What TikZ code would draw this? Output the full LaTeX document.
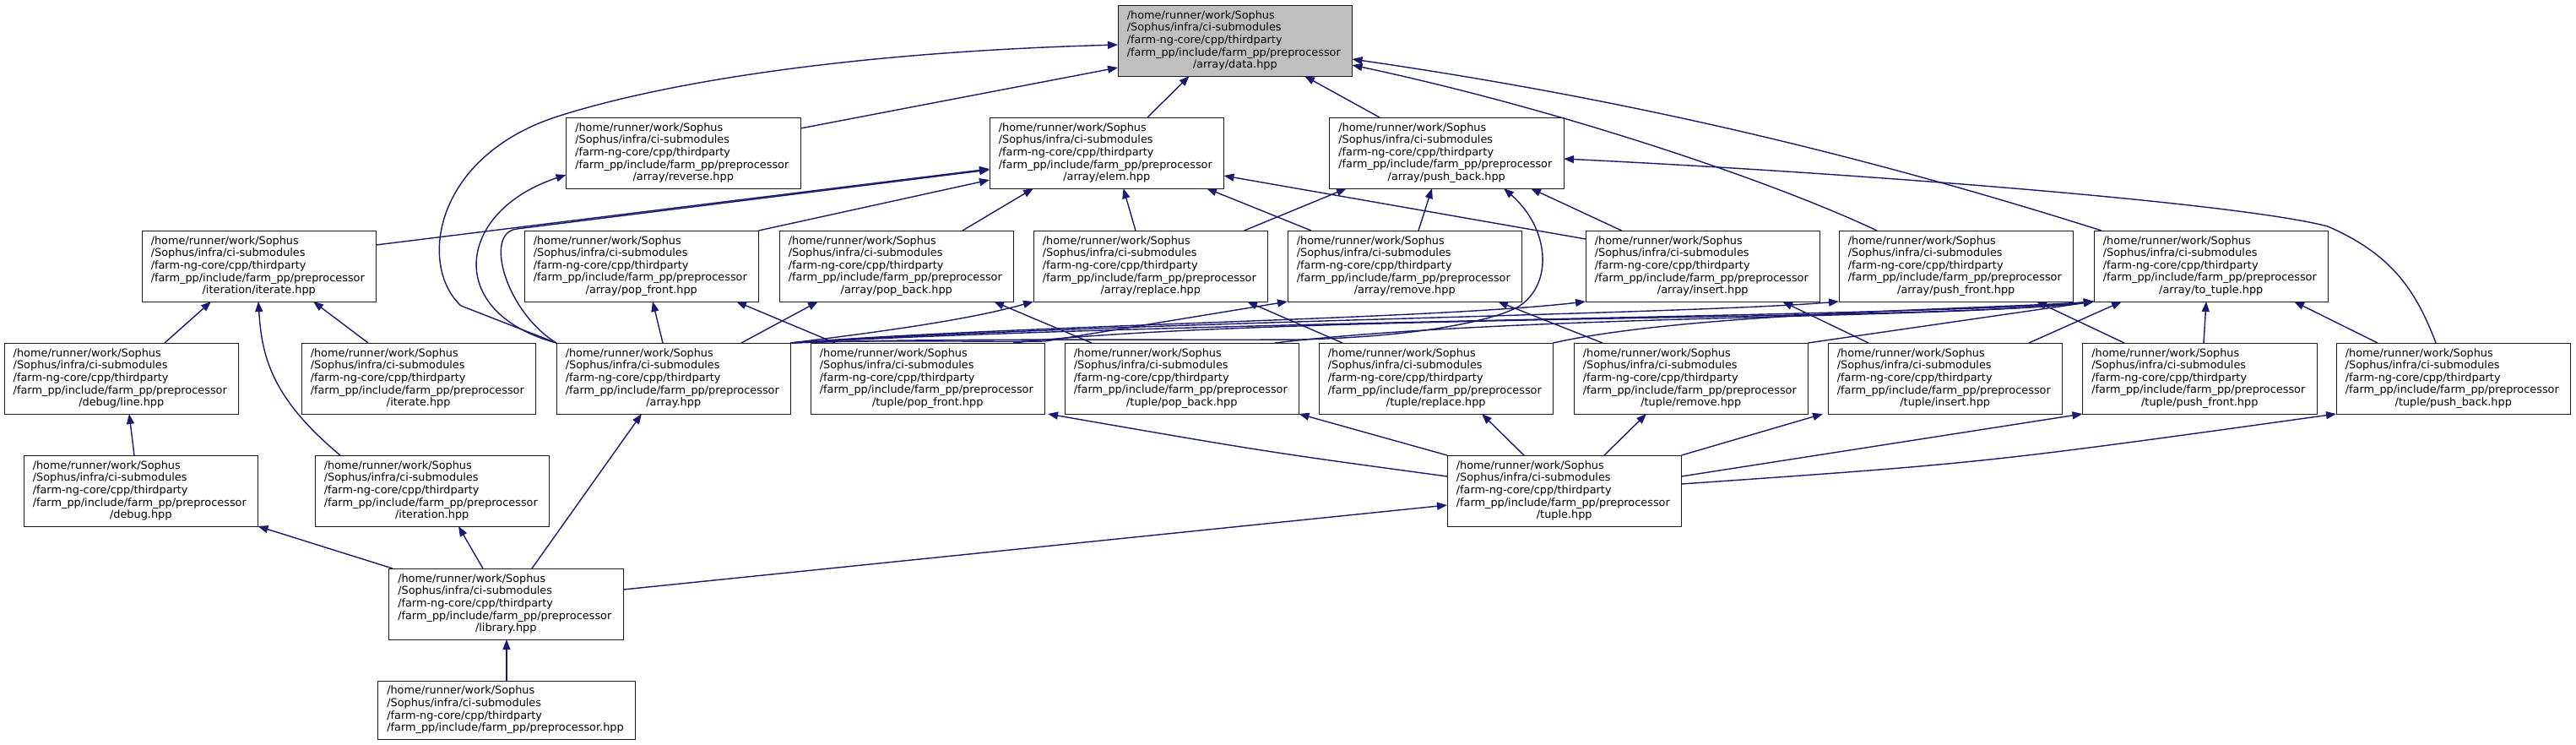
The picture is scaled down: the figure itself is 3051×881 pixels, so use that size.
\documentclass[tikz,border=0pt]{standalone}
\usepackage{fontspec}
\setmainfont{DejaVu Sans}
\usetikzlibrary{arrows.meta}
\definecolor{navy}{HTML}{191970}
\definecolor{rootfill}{HTML}{BFBFBF}
\definecolor{boxline}{HTML}{1A1A1A}
\newcommand{\pfx}{/home/runner/work/Sophus\\/Sophus/infra/ci-submodules\\/farm-ng-core/cpp/thirdparty\\/farm\_pp/include/farm\_pp/preprocessor\\}
\newcommand{\lastl}[1]{\makebox[256pt][c]{#1}}
\begin{document}
\begin{tikzpicture}[x=1pt,y=-1pt,
  filebox/.style={draw=boxline, fill=white, line width=1pt, anchor=north west,
    text width=256pt, align=left, inner xsep=10.75pt, inner ysep=0pt, outer sep=0pt,
    minimum height=84pt, font=\fontsize{12.86pt}{14.6pt}\selectfont},
  rootbox/.style={filebox, fill=rootfill},
  dep/.style={draw=navy, line width=1.4pt, -{Triangle[length=12pt,width=9pt]}}]
\fill[white] (0,0) rectangle (3051,881);
\useasboundingbox (0,0) rectangle (3051,881);
% row 1
\node[rootbox] (data) at (1324,6) {\pfx\lastl{/array/data.hpp}};
% row 2
\node[filebox] (reverse) at (670.5,139) {\pfx\lastl{/array/reverse.hpp}};
\node[filebox] (elem) at (1172,139) {\pfx\lastl{/array/elem.hpp}};
\node[filebox] (pushback) at (1574.5,139) {\pfx\lastl{/array/push\_back.hpp}};
% row 3
\node[filebox] (iterit) at (168,273) {\pfx\lastl{/iteration/iterate.hpp}};
\node[filebox] (apopf) at (621,273) {\pfx\lastl{/array/pop\_front.hpp}};
\node[filebox] (apopb) at (923,273) {\pfx\lastl{/array/pop\_back.hpp}};
\node[filebox] (arepl) at (1224,273) {\pfx\lastl{/array/replace.hpp}};
\node[filebox] (aremv) at (1525,273) {\pfx\lastl{/array/remove.hpp}};
\node[filebox] (ains) at (1878,273) {\pfx\lastl{/array/insert.hpp}};
\node[filebox] (apushf) at (2178,273) {\pfx\lastl{/array/push\_front.hpp}};
\node[filebox] (atotup) at (2480,273) {\pfx\lastl{/array/to\_tuple.hpp}};
% row 4
\node[filebox] (line) at (5,406) {\pfx\lastl{/debug/line.hpp}};
\node[filebox] (iter) at (357,406) {\pfx\lastl{/iterate.hpp}};
\node[filebox] (array) at (659,406) {\pfx\lastl{/array.hpp}};
\node[filebox] (tpopf) at (960,406) {\pfx\lastl{/tuple/pop\_front.hpp}};
\node[filebox] (tpopb) at (1261,406) {\pfx\lastl{/tuple/pop\_back.hpp}};
\node[filebox] (trepl) at (1562,406) {\pfx\lastl{/tuple/replace.hpp}};
\node[filebox] (tremv) at (1864,406) {\pfx\lastl{/tuple/remove.hpp}};
\node[filebox] (tins) at (2165,406) {\pfx\lastl{/tuple/insert.hpp}};
\node[filebox] (tpushf) at (2466.5,406) {\pfx\lastl{/tuple/push\_front.hpp}};
\node[filebox] (tpushb) at (2767,406) {\pfx\lastl{/tuple/push\_back.hpp}};
% row 5
\node[filebox] (debug) at (28,539) {\pfx\lastl{/debug.hpp}};
\node[filebox] (iteration) at (373,539) {\pfx\lastl{/iteration.hpp}};
\node[filebox] (tuple) at (1714,539) {\pfx\lastl{/tuple.hpp}};
% row 6, 7
\node[filebox] (library) at (460.5,673) {\pfx\lastl{/library.hpp}};
\node[filebox, text width=283pt, minimum height=69pt] (prep) at (447.5,806)
  {/home/runner/work/Sophus\\/Sophus/infra/ci-submodules\\/farm-ng-core/cpp/thirdparty\\/farm\_pp/include/farm\_pp/preprocessor.hpp};

% ---- edges into data
\draw[dep] (array.north west) -- (546,362) .. controls (495,315) and (513,184) .. (663,137)
   .. controls (783,99) and (1000,62) .. (data.west |- 0,53);
\draw[dep] (reverse.east |- 0,152) -- (data.west |- 0,80);
\draw[dep] (elem.north -| 1359,0) -- (data.south -| 1408.6,0);
\draw[dep] (pushback.north -| 1634,0) -- (data.south -| 1545,0);
\draw[dep] (apushf.north -| 2223,0) .. controls (2100,215) and (1850,130) .. (data.east |- 0,77);
\draw[dep] (atotup.north -| 2489,0) .. controls (2189,178) and (1912,115) .. (data.east |- 0,70);
% ---- into reverse
\draw[dep] (array.north west) .. controls (525,370) and (540,250) .. (reverse.west |- 0,207);
% ---- into elem
\draw[dep] (iterit.east |- 0,290) -- (elem.west |- 0,200);
\draw[dep] (array.north west) .. controls (600,370) and (572,276) .. (612,271) -- (elem.west |- 0,201);
\draw[dep] (apopf.north east) -- (elem.west |- 0,213);
\draw[dep] (apopb.north -| 1140,0) -- (elem.south -| 1224,0);
\draw[dep] (arepl.north -| 1345,0) -- (elem.south -| 1330.5,0);
\draw[dep] (aremv.north -| 1553,0) -- (elem.south -| 1429,0);
\draw[dep] (ains.west |- 0,283) -- (elem.east |- 0,208);
% ---- into push_back
\draw[dep] (arepl.north -| 1473.6,0) -- (pushback.south -| 1595,0);
\draw[dep] (aremv.north -| 1680,0) -- (pushback.south -| 1696,0);
\draw[dep] (ains.north -| 1920.6,0) -- (pushback.south -| 1813,0);
\draw[dep] (array.north east) .. controls (1100,400) and (1400,403) .. (1540,402)
   .. controls (1700,398) and (1780,375) .. (1800,362)
   .. controls (1840,335) and (1835,270) .. (pushback.south -| 1781,0);
\draw[dep] (tpushb.north -| 2885,0) .. controls (2860,340) and (2830,300) .. (2757,268)
   .. controls (2650,240) and (2200,205) .. (pushback.east |- 0,188);
% ---- iteration/iterate
\draw[dep] (line.north -| 195,0) -- (iterit.south -| 250,0);
\draw[dep] (iter.north -| 436,0) -- (iterit.south -| 371,0);
\draw[dep] (iteration.north -| 403,0) .. controls (320,470) and (310,420) .. (iterit.south -| 306,0);
% ---- array.hpp to array/*
\draw[dep] (array.north -| 785,0) -- (apopf.south -| 773,0);
\draw[dep] (array.north -| 878,0) -- (apopb.south -| 969,0);
\draw[dep] (array.north east) .. controls (1050,392) and (1150,378) .. (arepl.south west);
\draw[dep] (array.north east) .. controls (1050,402) and (1150,405) .. (1238,404) -- (aremv.south west);
\draw[dep] (array.north east) .. controls (1200,385) and (1700,378) .. (ains.south west);
\draw[dep] (array.north east) .. controls (1300,382) and (2000,372) .. (apushf.south west);
\draw[dep] (array.north east) .. controls (1400,380) and (2300,374) .. (atotup.south west);
% ---- tuple/* to array/*
\draw[dep] (tpopf.north -| 989,0) -- (apopf.south -| 872,0);
\draw[dep] (tpopb.north -| 1293,0) -- (apopb.south -| 1177,0);
\draw[dep] (trepl.north -| 1590,0) -- (arepl.south -| 1477,0);
\draw[dep] (tremv.north -| 1898,0) -- (aremv.south -| 1774,0);
\draw[dep] (tins.north -| 2213,0) -- (ains.south -| 2111,0);
\draw[dep] (tpushf.north -| 2516,0) -- (apushf.south -| 2412,0);
% ---- tuple/* to to_tuple
\draw[dep] (tpopf.north -| 1200,0) .. controls (1500,372) and (2300,380) .. (atotup.south west);
\draw[dep] (tpopb.north -| 1510,0) .. controls (1800,372) and (2300,378) .. (atotup.south west);
\draw[dep] (trepl.north east) .. controls (2000,370) and (2350,366) .. (atotup.south west);
\draw[dep] (tremv.north east) -- (atotup.south west);
\draw[dep] (tins.north -| 2403,0) -- (atotup.south -| 2513,0);
\draw[dep] (tpushf.north -| 2610,0) -- (atotup.south -| 2613,0);
\draw[dep] (tpushb.north -| 2816,0) -- (atotup.south -| 2717,0);
% ---- tuple.hpp
\draw[dep] (tuple.west |- 0,564) .. controls (1500,535) .. (tpopf.south -| 1241,0);
\draw[dep] (tuple.north west) -- (tpopb.south east);
\draw[dep] (tuple.north -| 1805,0) -- (trepl.south -| 1755,0);
\draw[dep] (tuple.north -| 1900,0) -- (tremv.south -| 1950,0);
\draw[dep] (tuple.north east) -- (tins.south -| 2159,0);
\draw[dep] (tuple.east |- 0,564) -- (tpushf.south west);
\draw[dep] (tuple.east |- 0,573) .. controls (2350,548) .. (tpushb.south west);
% ---- lower part
\draw[dep] (debug.north -| 159,0) -- (line.south -| 153,0);
\draw[dep] (library.north -| 465,0) -- (debug.south east);
\draw[dep] (library.north -| 572,0) -- (iteration.south -| 543,0);
\draw[dep] (library.north -| 630,0) -- (array.south -| 760,0);
\draw[dep] (library.east |- 0,698) -- (tuple.west |- 0,598);
\draw[dep] (prep.north -| 600,0) -- (library.south -| 600,0);
\end{tikzpicture}
\end{document}
